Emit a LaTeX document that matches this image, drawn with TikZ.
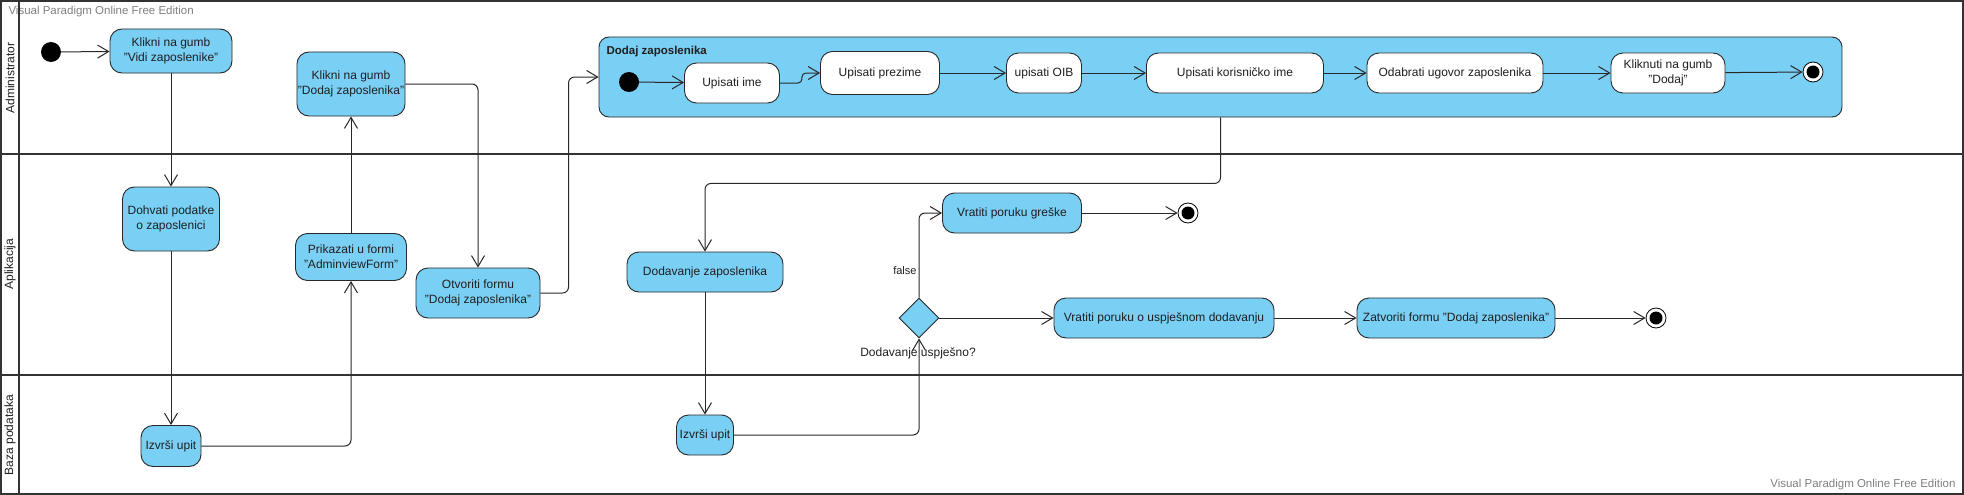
\documentclass[tikz,border=0pt]{standalone}
\usepackage{fontspec}
\setmainfont{Liberation Sans}
\usetikzlibrary{arrows.meta,shapes.geometric}

\definecolor{vpblue}{RGB}{122,207,245}
\definecolor{vpline}{RGB}{40,40,40}
\definecolor{vpgray}{RGB}{128,128,128}

\begin{document}
\begin{tikzpicture}[x=1pt,y=-1pt,
  every node/.style={align=center, font=\fontsize{12}{15}\selectfont, text=black!88},
  act/.style={draw=vpline, fill=vpblue, line width=0.9pt, rounded corners=12pt, inner xsep=1pt, inner ysep=2pt},
  sub/.style={act, fill=white},
  start/.style={circle, fill=black, minimum size=20pt, inner sep=0pt},
  stop/.style={circle, draw=black, fill=white, line width=0.8pt, minimum size=20pt, inner sep=0pt,
    path picture={\fill[black] (path picture bounding box.center) circle (6.5pt);}},
  choice/.style={diamond, draw=vpline, fill=vpblue, line width=0.9pt, minimum size=40pt, inner sep=0pt},
  flow/.style={draw=vpline, line width=1pt, rounded corners=6pt,
    -{Straight Barb[length=11pt,width=13pt,line width=1pt]}},
  lane/.style={draw=black!80, line width=1.6pt},
  wmark/.style={text=vpgray, font=\fontsize{11.5}{14}\selectfont}]
  \useasboundingbox (0,0) rectangle (1964,495);

  \node[wmark, anchor=west] (wmtop) at (5,12) {Visual Paradigm Online Free Edition};
  \node[wmark, anchor=east] (wmbot) at (1959,485) {Visual Paradigm Online Free Edition};

  \draw[lane] (1,1) rectangle (1963,494);
  \draw[lane] (19,0) -- (19,495);
  \draw[lane] (0,154) -- (1964,154);
  \draw[lane] (0,375) -- (1964,375);
  \node[rotate=90] (laneadmin) at (10,78) {Administrator};
  \node[rotate=90] (laneapp) at (10,264) {Aplikacija};
  \node[rotate=90] (lanedb) at (10,435) {Baza podataka};

  \node[start] (init1) at (51,52) {};
  \node[act, minimum width=122pt, minimum height=44pt] (vidi) at (171,51) {Klikni na gumb\\"Vidi zaposlenike"};
  \node[act, minimum width=97pt, minimum height=64pt] (dohvati) at (171,219) {Dohvati podatke\\o zaposlenici};
  \node[act, minimum width=60pt, minimum height=41pt] (upit1) at (171,446) {Izvrši upit};
  \node[act, minimum width=111pt, minimum height=47pt] (prikazati) at (351,257) {Prikazati u formi\\"AdminviewForm"};
  \node[act, minimum width=107pt, minimum height=64pt] (kliknidodaj) at (351,84) {Klikni na gumb\\"Dodaj zaposlenika"};
  \node[act, minimum width=124pt, minimum height=50pt] (otvoriti) at (478,293) {Otvoriti formu\\"Dodaj zaposlenika"};

  \node[act, rounded corners=10pt, minimum width=1243pt, minimum height=80pt] (dodaj) at (1220.5,77) {};
  \node[anchor=west, font=\fontsize{11.5}{14}\selectfont\bfseries] (dodajlbl) at (603,52) {Dodaj zaposlenika};
  \node[start] (init2) at (629,82) {};
  \node[sub, minimum width=95pt, minimum height=40pt] (upisime) at (732,83) {Upisati ime};
  \node[sub, minimum width=119pt, minimum height=43pt] (prezime) at (880,73) {Upisati prezime};
  \node[sub, minimum width=75pt, minimum height=40pt] (oib) at (1044,73) {upisati OIB};
  \node[sub, minimum width=177pt, minimum height=40pt] (korisnicko) at (1235,73) {Upisati korisničko ime};
  \node[sub, minimum width=176pt, minimum height=40pt] (odabrati) at (1455,73) {Odabrati ugovor zaposlenika};
  \node[sub, minimum width=114pt, minimum height=40pt] (kliknuti) at (1668,73) {Kliknuti na gumb\\"Dodaj"};
  \node[stop] (fin1) at (1813,72) {};

  \node[act, minimum width=156pt, minimum height=40pt] (dodavanje) at (705,272) {Dodavanje zaposlenika};
  \node[act, minimum width=57pt, minimum height=40pt] (upit2) at (705,435) {Izvrši upit};
  \node[choice] (odluka) at (919,318) {};
  \node (odlukalbl) at (918,353) {Dodavanje uspješno?};
  \node[act, minimum width=139pt, minimum height=40pt] (greske) at (1012,213) {Vratiti poruku greške};
  \node[stop] (fin2) at (1188,213) {};
  \node[act, minimum width=220pt, minimum height=40pt] (uspjesno) at (1164,318) {Vratiti poruku o uspješnom dodavanju};
  \node[act, minimum width=198pt, minimum height=40pt] (zatvori) at (1456,318) {Zatvoriti formu "Dodaj zaposlenika"};
  \node[stop] (fin3) at (1656,318) {};

  \draw[flow] (init1) -- (vidi);
  \draw[flow] (vidi) -- (dohvati);
  \draw[flow] (dohvati) -- (upit1);
  \draw[flow] (upit1.east) -| (prikazati.south);
  \draw[flow] (prikazati) -- (kliknidodaj);
  \draw[flow] (kliknidodaj.east) -| (otvoriti.north);
  \draw[flow] (otvoriti.east) -| ([xshift=-30pt]dodaj.west) -- (dodaj.west);

  \draw[flow] (init2) -- (upisime);
  \draw[flow, rounded corners=4pt] (upisime.east) -- ++(22,0) |- (prezime.west);
  \draw[flow] (prezime) -- (oib);
  \draw[flow] (oib) -- (korisnicko);
  \draw[flow] (korisnicko) -- (odabrati);
  \draw[flow] (odabrati) -- (kliknuti);
  \draw[flow] (kliknuti) -- (fin1);

  \draw[flow] (dodaj.south) -- ++(0,66) -| (dodavanje.north);
  \draw[flow] (dodavanje) -- (upit2);
  \draw[flow] (upit2.east) -| (odluka.south);
  \draw[flow] (odluka.north) |- node[pos=0.16, left, inner sep=2pt, font=\fontsize{11}{13}\selectfont] {false} (greske.west);
  \draw[flow] (greske) -- (fin2);
  \draw[flow] (odluka) -- (uspjesno);
  \draw[flow] (uspjesno) -- (zatvori);
  \draw[flow] (zatvori) -- (fin3);
\end{tikzpicture}
\end{document}
